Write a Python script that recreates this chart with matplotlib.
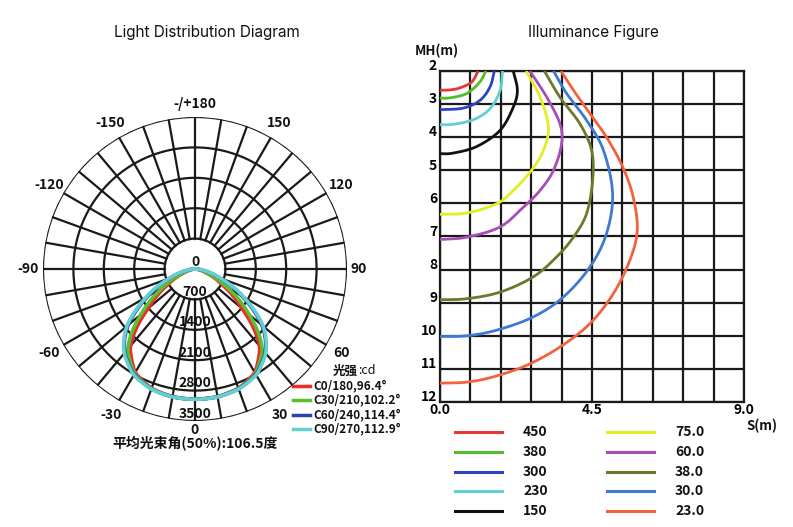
import numpy as np
import matplotlib
matplotlib.use("Agg")
import matplotlib.pyplot as plt
from matplotlib.lines import Line2D
from matplotlib.transforms import ScaledTranslation

plt.rcParams['font.family'] = ['Noto Sans CJK SC', 'DejaVu Sans']

# ---------------- Data: light distribution (cd) ----------------
angles = [0, 10, 20, 30, 40, 45, 50, 60, 70, 80, 90]
c0_180 = [3000, 2985, 2925, 2760, 2330, 1900, 1400, 720, 300, 80, 0]
c30_210 = [3000, 2988, 2935, 2790, 2420, 2060, 1620, 860, 350, 100, 0]
c60_240 = [3000, 2990, 2940, 2810, 2520, 2300, 2020, 1250, 600, 200, 0]
c90_270 = [3000, 2992, 2945, 2825, 2540, 2320, 2060, 1300, 620, 200, 0]
polar_series = ["C0/180,96.4°", "C30/210,102.2°", "C60/240,114.4°", "C90/270,112.9°"]
polar_colors = ["#ee2a2a", "#5cbf2e", "#2e43b0", "#63cfd0"]
ring_values = [700, 1400, 2100, 2800, 3500]
angle_labels = [0, 30, 60, 90, 120, 150, 180, -150, -120, -90, -60, -30]

# ---------------- Data: illuminance contours (lux) ----------------
iso_levels = ["450", "380", "300", "230", "150", "75.0", "60.0", "38.0", "30.0", "23.0"]
iso_colors = ["#e53535", "#52bd2c", "#2f42bf", "#62d0cf", "#111111",
              "#e2ee22", "#a64db8", "#6a7a2c", "#3f79d2", "#f2623e"]
iso_x = [
    [1.13, 0.94, 0.59, 0.30, 0.0],
    [1.36, 1.18, 0.79, 0.30, 0.0],
    [1.61, 1.48, 1.18, 0.69, 0.0],
    [1.85, 1.78, 1.48, 0.99, 0.39, 0.0],
    [2.17, 2.29, 2.17, 1.78, 1.09, 0.39, 0.0],
    [2.55, 2.96, 3.21, 3.06, 2.71, 2.17, 1.68, 0.79, 0.0],
    [2.66, 3.16, 3.55, 3.60, 3.36, 2.96, 2.47, 1.78, 0.79, 0.0],
    [3.09, 3.55, 4.14, 4.49, 4.52, 4.34, 3.95, 3.45, 2.76, 1.78, 0.79, 0.0],
    [3.36, 3.75, 4.34, 4.84, 5.11, 4.93, 4.44, 3.65, 2.76, 1.68, 0.79, 0.0],
    [3.58, 3.95, 4.44, 4.93, 5.41, 5.72, 5.84, 5.62, 5.13, 4.44, 3.55, 2.57, 1.58, 0.79, 0.0],
]
iso_y = [
    [2.0, 2.33, 2.51, 2.57, 2.58],
    [2.0, 2.33, 2.68, 2.81, 2.82],
    [2.0, 2.48, 2.89, 3.12, 3.17],
    [2.0, 2.58, 3.14, 3.47, 3.61, 3.62],
    [2.0, 2.58, 3.09, 3.79, 4.28, 4.48, 4.50],
    [2.0, 2.79, 3.69, 4.40, 5.00, 5.61, 6.01, 6.29, 6.33],
    [2.0, 2.79, 3.59, 4.20, 5.00, 5.61, 6.11, 6.71, 7.02, 7.09],
    [2.0, 2.79, 3.59, 4.40, 5.30, 6.31, 7.02, 7.62, 8.22, 8.68, 8.88, 8.91],
    [2.0, 2.68, 3.49, 4.40, 5.71, 6.91, 7.92, 8.83, 9.43, 9.83, 10.0, 10.02],
    [2.0, 2.58, 3.29, 4.00, 4.90, 5.81, 6.81, 7.72, 8.73, 9.63, 10.34, 10.89, 11.24, 11.40, 11.43],
]
x_ticks = [0.0, 4.5, 9.0]
y_ticks = [2, 3, 4, 5, 6, 7, 8, 9, 10, 11, 12]


def smooth(xs, ys):
    xs = np.asarray(xs, float); ys = np.asarray(ys, float)
    out_x, out_y = [], []
    pts = np.c_[xs, ys]
    pts = np.vstack([2 * pts[0] - pts[1], pts, 2 * pts[-1] - pts[-2]])
    for i in range(1, len(pts) - 2):
        p0, p1, p2, p3 = pts[i - 1], pts[i], pts[i + 1], pts[i + 2]
        for s in np.linspace(0, 1, 20, endpoint=False):
            s2, s3 = s * s, s * s * s
            p = 0.5 * ((2 * p1) + (-p0 + p2) * s + (2 * p0 - 5 * p1 + 4 * p2 - p3) * s2
                       + (-p0 + 3 * p1 - 3 * p2 + p3) * s3)
            out_x.append(p[0]); out_y.append(p[1])
    out_x.append(xs[-1]); out_y.append(ys[-1])
    return np.array(out_x), np.array(out_y)


fig = plt.figure(figsize=(7.93, 5.27), dpi=100)
W, H = 793, 527

def fx(px): return px / W
def fy(py): return 1 - py / H

TXT = '#111111'
# ---------------- Polar chart ----------------
R = 152
cx, cy = 195, 269
axp = fig.add_axes([fx(cx - R), fy(cy + R), 2 * R / W, 2 * R / H], projection='polar')
axp.set_theta_zero_location('S')
axp.set_theta_direction(1)
axp.set_ylim(0, 3500)
axp.set_xticks([]); axp.set_yticks([])
axp.grid(False)
axp.spines['polar'].set_visible(False)
gc = '#1a1a1a'
th = np.linspace(0, 2 * np.pi, 400)
for rv in ring_values:
    axp.plot(th, np.full_like(th, rv), color=gc, lw=1.6, zorder=1)
for a in range(0, 360, 10):
    axp.plot([np.deg2rad(a)] * 2, [ring_values[0], 3500], color=gc, lw=1.6, zorder=1)

full_ang = np.deg2rad(np.r_[-np.array(angles[::-1]), np.array(angles[1:])])
for vals, col in zip([c0_180, c30_210, c60_240, c90_270], polar_colors):
    v = np.r_[np.array(vals[::-1]), np.array(vals[1:])]
    ang_fine = np.linspace(full_ang[0], full_ang[-1], 400)
    v_fine = np.interp(ang_fine, full_ang, v)
    k = np.ones(9) / 9
    v_s = np.convolve(np.pad(v_fine, 4, mode='edge'), k, mode='valid')
    axp.plot(ang_fine, v_s, color=col, lw=2.6, zorder=3)

label_r = {0: 1.06, 180: 1.085, 90: 1.075, -90: 1.10}
for a in angle_labels:
    lab = "-/+180" if a == 180 else str(a)
    rr = 3500 * label_r.get(a, 1.11)
    axp.text(np.deg2rad(a), rr, lab, ha='center', va='center',
             fontsize=10, fontweight='bold', color=TXT, zorder=5)

for rv in ring_values:
    axp.text(0, rv - 170, str(rv), ha='center', va='center', fontsize=10,
             color=TXT, fontweight='bold', zorder=4)
axp.text(np.pi, 170, "0", ha='center', va='center', fontsize=10,
         color=TXT, fontweight='bold', zorder=4)

fig.text(fx(207), fy(33), "Light Distribution Diagram", ha='center', va='center',
         fontsize=11, color=TXT, family=['Inter', 'DejaVu Sans'])
fig.text(fx(195), fy(444), "平均光束角(50%):106.5度", ha='center', va='center',
         fontsize=10, fontweight='bold', color=TXT)

# polar legend
fig.text(fx(333), fy(371), "光强", ha='left', va='center', fontsize=9, fontweight='bold', color=TXT)
fig.text(fx(358), fy(371), ":cd", ha='left', va='center', fontsize=9, color=TXT)
for i, (lab, col) in enumerate(zip(polar_series, polar_colors)):
    yy = 386 + i * 14.3
    fig.add_artist(Line2D([fx(293), fx(310)], [fy(yy), fy(yy)], color=col, lw=2.5))
    fig.text(fx(313), fy(yy), lab, ha='left', va='center', fontsize=8.5,
             fontweight='bold', color=TXT)

# ---------------- Illuminance chart ----------------
axi = fig.add_axes([fx(440), fy(402), (744 - 440) / W, (402 - 71) / H])
axi.set_xlim(0, 9)
axi.set_ylim(12, 2)
for xv in np.arange(0, 9.01, 0.9):
    axi.axvline(xv, color=gc, lw=1.6, zorder=1)
for yv in y_ticks:
    axi.axhline(yv, color=gc, lw=1.6, zorder=1)
for s in axi.spines.values():
    s.set_color(gc); s.set_linewidth(1.6)
for xs, ys, col in zip(iso_x, iso_y, iso_colors):
    sx, sy = smooth(xs, ys)
    axi.plot(sx, sy, color=col, lw=2.0, zorder=3, solid_capstyle='butt')
axi.set_xticks(x_ticks)
axi.set_xticklabels([f"{v:.1f}" for v in x_ticks], fontsize=10, fontweight='bold')
axi.set_yticks(y_ticks)
axi.set_yticklabels([str(v) for v in y_ticks], fontsize=10, fontweight='bold')
axi.tick_params(length=0, pad=2)
axi.tick_params(axis='x', pad=0)
for lab in axi.get_yticklabels():
    lab.set_transform(lab.get_transform() + ScaledTranslation(0, 4.5 / 72, fig.dpi_scale_trans))
for lab in axi.get_xticklabels():
    lab.set_transform(lab.get_transform() + ScaledTranslation(0, -0.5 / 72, fig.dpi_scale_trans))

fig.text(fx(437), fy(51), "MH(m)", ha='center', va='center', fontsize=9.5, fontweight='bold', color=TXT)
fig.text(fx(762), fy(426), "S(m)", ha='center', va='center', fontsize=9.5, fontweight='bold', color=TXT)
fig.text(fx(593), fy(33), "Illuminance Figure", ha='center', va='center',
         fontsize=11, color=TXT, family=['Inter', 'DejaVu Sans'])

for i, (lab, col) in enumerate(zip(iso_levels, iso_colors)):
    col_i, row = divmod(i, 5)
    yy = 432 + row * 19.8
    x0 = 455 if col_i == 0 else 607
    fig.add_artist(Line2D([fx(x0), fx(x0 + 47)], [fy(yy), fy(yy)], color=col, lw=2.2))
    fig.text(fx(x0 + 68), fy(yy), lab, ha='left', va='center', fontsize=10,
             fontweight='bold', color=TXT)

fig.savefig("out.png", dpi=100, facecolor='white')
